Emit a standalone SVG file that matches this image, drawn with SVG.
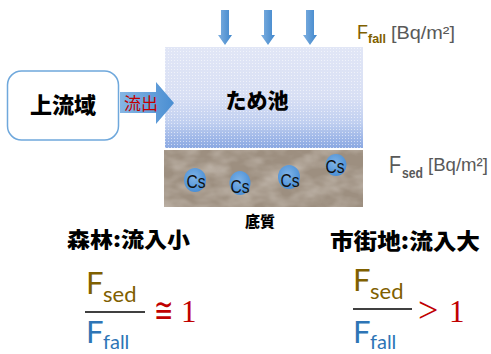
<svg xmlns="http://www.w3.org/2000/svg" width="491" height="354" viewBox="0 0 491 354">
  <defs>
    <style>
      .jp { font-family: "Noto Sans CJK JP", "Noto Sans", sans-serif; font-weight: 900; fill: #000; }
      .lbl { font-family: "Liberation Sans", Arial, sans-serif; }
      .frac { font-family: Lato, "Liberation Sans", sans-serif; }
      .rel { font-family: "Liberation Serif", "DejaVu Serif", serif; fill: #c00000; }
      .cs { font-family: "Liberation Sans", Arial, sans-serif; font-size: 19px; fill: #111; }
      .drop { fill: url(#dropGrad); }
    </style>
    <linearGradient id="waterGrad" x1="0" y1="0" x2="0" y2="1">
      <stop offset="0" stop-color="#e1e6f6"/>
      <stop offset="0.5" stop-color="#d8dff4"/>
      <stop offset="0.75" stop-color="#c0cff0"/>
      <stop offset="1" stop-color="#8aa8e2"/>
    </linearGradient>
    <pattern id="dots" width="3" height="3" patternUnits="userSpaceOnUse">
      <rect x="0" y="0" width="1" height="1" fill="#ffffff" opacity="0.55"/>
    </pattern>
    <linearGradient id="dropGrad" x1="0" y1="0" x2="1" y2="0">
      <stop offset="0" stop-color="#7fb0e0"/>
      <stop offset="1" stop-color="#3f86cc"/>
    </linearGradient>
    <linearGradient id="flowGrad" x1="0" y1="0" x2="1" y2="0">
      <stop offset="0" stop-color="#86b6e4"/>
      <stop offset="1" stop-color="#4a8ed2"/>
    </linearGradient>
    <radialGradient id="csGrad" cx="0.45" cy="0.4" r="0.6">
      <stop offset="0" stop-color="#7fb3e6"/>
      <stop offset="1" stop-color="#4a8fd6"/>
    </radialGradient>
    <filter id="mottle" x="0" y="0" width="1" height="1">
      <feTurbulence type="fractalNoise" baseFrequency="0.035 0.06" numOctaves="3" seed="7" result="n"/>
      <feColorMatrix in="n" type="matrix" values="0 0 0 0 1  0 0 0 0 0.97  0 0 0 0 0.93  1.6 0 0 0 -0.55" result="hi"/>
      <feComposite in="hi" in2="SourceGraphic" operator="in"/>
    </filter>
  </defs>

  <rect width="491" height="354" fill="#ffffff"/>

  <!-- pond water -->
  <g id="pond">
    <rect x="165" y="47" width="198" height="101" fill="url(#waterGrad)"/>
    <rect x="165" y="47" width="198" height="101" fill="url(#dots)"/>
    <text class="jp" x="257" y="108" font-size="21" text-anchor="middle">ため池</text>
  </g>

  <!-- sediment layer -->
  <g id="sediment">
    <rect x="164" y="150" width="199" height="57" fill="#9d8f80"/>
    <rect x="164" y="150" width="199" height="57" fill="#000" filter="url(#mottle)" opacity="0.45"/>
    <text class="jp" x="260" y="227" font-size="15" text-anchor="middle">底質</text>
  </g>

  <!-- cesium particles -->
  <g id="cs1"><ellipse cx="195" cy="180" rx="11" ry="12" fill="url(#csGrad)"/><text class="cs" x="196" y="188" text-anchor="middle" textLength="19" lengthAdjust="spacingAndGlyphs">Cs</text></g>
  <g id="cs2"><ellipse cx="240" cy="183" rx="10.5" ry="12" fill="url(#csGrad)"/><text class="cs" x="240" y="193" text-anchor="middle" textLength="19" lengthAdjust="spacingAndGlyphs">Cs</text></g>
  <g id="cs3"><ellipse cx="289" cy="177" rx="11" ry="12" fill="url(#csGrad)"/><text class="cs" x="290" y="187" text-anchor="middle" textLength="19" lengthAdjust="spacingAndGlyphs">Cs</text></g>
  <g id="cs4"><ellipse cx="336" cy="165" rx="10.5" ry="11" fill="url(#csGrad)"/><text class="cs" x="335" y="173" text-anchor="middle" textLength="19" lengthAdjust="spacingAndGlyphs">Cs</text></g>

  <!-- upstream catchment -->
  <g id="upstream">
    <rect x="7.5" y="71" width="111" height="69" rx="14" fill="#ffffff" stroke="#6fa8dc" stroke-width="1.5"/>
    <text class="jp" x="63" y="113" font-size="22" text-anchor="middle">上流域</text>
  </g>

  <!-- connectors -->
  <g id="connectors">
    <polygon class="drop" points="221,10 229,10 229,35 232,35 225,45 218,35 221,35"/>
    <polygon class="drop" points="264,10 272,10 272,35 275,35 268,45 261,35 264,35"/>
    <polygon class="drop" points="306,10 314,10 314,35 317,35 310,45 303,35 306,35"/>
    <polygon points="120,92 156,92 156,82 174,103 156,124 156,113 120,113" fill="url(#flowGrad)"/>
    <text x="124" y="110" font-size="17" fill="#c00000" font-family="Noto Sans CJK JP, sans-serif">流出</text>
  </g>

  <!-- flux labels -->
  <g id="label-fall" class="lbl">
    <text x="357" y="39" font-size="21" fill="#7f6000" textLength="11" lengthAdjust="spacingAndGlyphs">F</text>
    <text x="368" y="43" font-size="13" font-weight="bold" fill="#7f6000" textLength="18" lengthAdjust="spacingAndGlyphs">fall</text>
    <text x="391" y="39" font-size="18" fill="#595959" textLength="64" lengthAdjust="spacingAndGlyphs">[Bq/m²]</text>
  </g>
  <g id="label-sed" class="lbl">
    <text x="389" y="173" font-size="24" fill="#595959" textLength="12" lengthAdjust="spacingAndGlyphs">F</text>
    <text x="402" y="178" font-size="14" font-weight="bold" fill="#595959" textLength="21" lengthAdjust="spacingAndGlyphs">sed</text>
    <text x="428" y="171" font-size="19" fill="#595959" textLength="60" lengthAdjust="spacingAndGlyphs">[Bq/m²]</text>
  </g>

  <!-- land-use captions -->
  <g id="forest">
    <text class="jp" x="67" y="247" font-size="21" textLength="123" lengthAdjust="spacingAndGlyphs">森林:流入小</text>
  </g>
  <g id="urban">
    <text class="jp" x="330" y="249" font-size="22" textLength="150" lengthAdjust="spacingAndGlyphs">市街地:流入大</text>
  </g>

  <!-- ratios -->
  <g id="ratio-forest" class="frac">
    <text x="86" y="294" font-size="31" fill="#7f6000">F</text>
    <text x="103" y="302" font-size="22" fill="#7f6000">sed</text>
    <line x1="85" y1="312" x2="145" y2="312" stroke="#000" stroke-width="1.5"/>
    <text x="86" y="343" font-size="31" fill="#2e75b6">F</text>
    <text x="103" y="349" font-size="20" fill="#2e75b6">fall</text>
    <text class="rel" x="154" y="322" font-size="34" textLength="19" lengthAdjust="spacingAndGlyphs">≅</text>
    <text class="rel" x="181" y="322" font-size="31">1</text>
  </g>
  <g id="ratio-urban" class="frac">
    <text x="353" y="291" font-size="31" fill="#7f6000">F</text>
    <text x="370" y="299" font-size="22" fill="#7f6000">sed</text>
    <line x1="353" y1="309" x2="412" y2="309" stroke="#000" stroke-width="1.5"/>
    <text x="353" y="343" font-size="31" fill="#2e75b6">F</text>
    <text x="370" y="349" font-size="20" fill="#2e75b6">fall</text>
    <text class="rel" x="418" y="322" font-size="36">&gt;</text>
    <text class="rel" x="449" y="322" font-size="31">1</text>
  </g>
</svg>
